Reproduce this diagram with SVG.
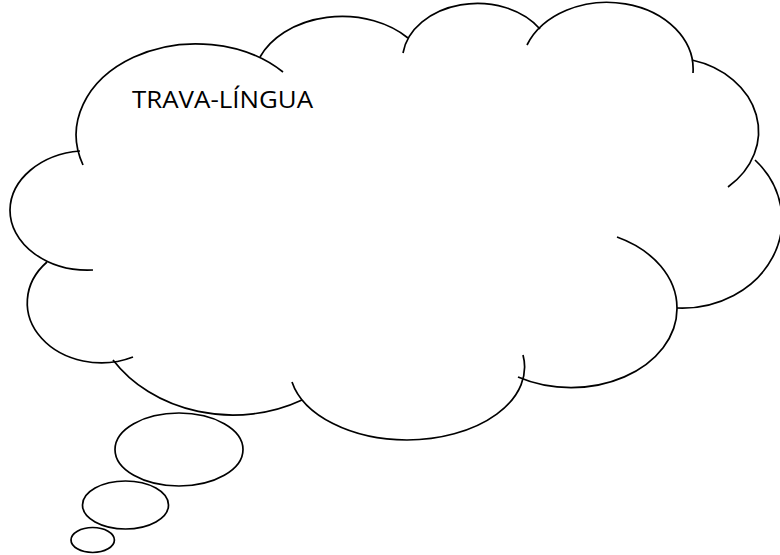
<svg xmlns="http://www.w3.org/2000/svg" width="780" height="555" viewBox="0 0 780 555">
  <style>
    .ln { fill: none; stroke: #000; stroke-width: 1.7; stroke-linecap: butt; }
    .bub { fill: #fff; stroke: #000; stroke-width: 1.7; }
    .lbl { font-family: "Open Sans", "Liberation Sans", sans-serif; font-size: 24px; fill: #000; }
  </style>
  <rect width="780" height="555" fill="#fff"/>
  <g id="cloud">
    <path class="ln" d="M83,165 A120,91 0 0 1 283,72"/>
    <path class="ln" d="M260,57 A89,66 0 0 1 408,38"/>
    <path class="ln" d="M403,53 A75,57 0 0 1 540,29"/>
    <path class="ln" d="M527,45 A86,67 0 0 1 693,73"/>
    <path class="ln" d="M692,60 A90,74 0 0 1 728,187"/>
    <path class="ln" d="M755,160 A100,88 0 0 1 677,308"/>
    <path class="ln" d="M617,237 A106,79 0 0 1 677,308 A106,79 0 0 1 518,377"/>
    <path class="ln" d="M523,355 A118,73 0 0 1 407,440 A118,73 0 0 1 292,382"/>
    <path class="ln" d="M302,400 A143,121 0 0 1 113,360"/>
    <path class="ln" d="M133,357 A74,60 0 0 1 47,262"/>
    <path class="ln" d="M93,270 A78,60 0 0 1 10,210 A78,60 0 0 1 80,151"/>
  </g>
  <g id="bubbles">
    <ellipse class="bub" cx="179" cy="449.5" rx="64" ry="36.5"/>
    <ellipse class="bub" cx="125.5" cy="505" rx="43" ry="24"/>
    <ellipse class="bub" cx="92.7" cy="540" rx="21.7" ry="12.5"/>
  </g>
  <g id="label">
    <text class="lbl" x="132" y="107.5" textLength="181" lengthAdjust="spacingAndGlyphs">TRAVA-LÍNGUA</text>
  </g>
</svg>
